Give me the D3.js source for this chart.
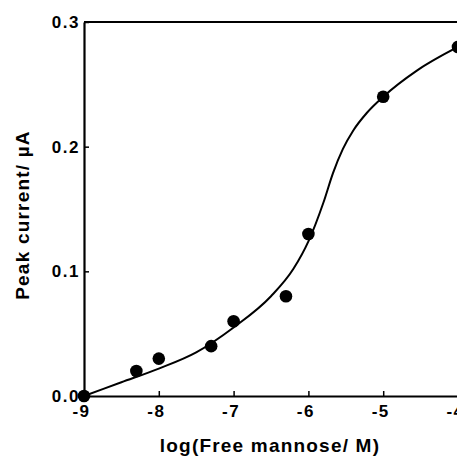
<html>
<head>
    <script src="https://d3js.org/d3.v7.min.js"></script>
</head>
<style>
    body { margin: 0; background: white; }
    .lbl { font-family: "Liberation Sans", Arial, sans-serif; font-weight: bold; fill: black; }
</style>
<body>
    <svg id="chart" width="457" height="456"></svg>
    <script>
        // measured points
        const logConc = [-9, -8.3, -8, -7.3, -7, -6.3, -6, -5, -4];
        const current = [0, 0.02, 0.03, 0.04, 0.06, 0.08, 0.13, 0.24, 0.28];

        // fitted curve
        const fitX = [-9, -8.5, -8, -7.5, -7, -6.5, -6.2, -6, -5.8, -5.67, -5.54, -5.4, -5.22, -5, -4.55, -4];
        const fitY = [0, 0.011, 0.022, 0.035, 0.055, 0.08, 0.102, 0.124, 0.155, 0.179, 0.198, 0.213, 0.227, 0.24, 0.261, 0.28];

        const xTicks = [-9, -8, -7, -6, -5, -4];
        const yTicks = [0, 0.1, 0.2, 0.3];

        const svg = d3.select('svg#chart');
        const margin = { top: 22, left: 84, bottom: 60, right: -1 };
        const W = 457 - margin.left - margin.right;
        const H = 456 - margin.top - margin.bottom;

        const x = d3.scaleLinear().domain([-9, -4]).range([0, W]);
        const y = d3.scaleLinear().domain([0, 0.3]).range([H, 0]);

        const g = svg.append("g")
            .attr("transform", "translate(" + margin.left + "," + margin.top + ")");

        // top frame
        g.append("line")
            .attr("x1", 0).attr("x2", W + 5)
            .attr("y1", 0).attr("y2", 0)
            .attr("stroke", "black").attr("stroke-width", 2.2);

        const xAxis = g.append("g")
            .attr("transform", "translate(0," + H + ")")
            .call(d3.axisBottom(x).tickValues(xTicks).tickSizeInner(-5).tickSizeOuter(0).tickPadding(9)
                .tickFormat(d => String(d)));
        const yAxis = g.append("g")
            .call(d3.axisLeft(y).tickValues(yTicks).tickSizeInner(-5).tickSizeOuter(0).tickPadding(5)
                .tickFormat(d => d.toFixed(1)));

        [xAxis, yAxis].forEach(a => {
            a.select(".domain").attr("stroke-width", 2.2);
            a.selectAll(".tick line").attr("stroke-width", 1.5);
            a.selectAll(".tick text")
                .attr("class", "lbl")
                .style("font-size", "17px")
                .style("letter-spacing", "1.5px");
        });
        yAxis.selectAll(".tick text").attr("dx", "1px");
        xAxis.selectAll(".tick text").attr("dx", "-3px");

        // fit line
        const fit = fitX.map((v, i) => [v, fitY[i]]);
        g.append("path").datum(fit)
            .attr("fill", "none")
            .attr("stroke", "black")
            .attr("stroke-width", 2)
            .attr("d", d3.line().x(d => x(d[0])).y(d => y(d[1])).curve(d3.curveMonotoneX));

        // data points
        g.selectAll("circle.pt").data(logConc)
            .join("circle")
            .attr("class", "pt")
            .attr("cx", d => x(d))
            .attr("cy", (d, i) => y(current[i]))
            .attr("r", 6.3)
            .attr("fill", "black");

        // axis titles
        svg.append("text")
            .attr("class", "lbl")
            .attr("x", 270).attr("y", 452)
            .attr("text-anchor", "middle")
            .style("font-size", "19px")
            .style("letter-spacing", "1.2px")
            .text("log(Free mannose/ M)");

        svg.append("text")
            .attr("class", "lbl")
            .attr("transform", "translate(29,215) rotate(-90)")
            .attr("text-anchor", "middle")
            .style("font-size", "19px")
            .style("letter-spacing", "1.2px")
            .text("Peak current/ µA");
    </script>
</body>
</html>
